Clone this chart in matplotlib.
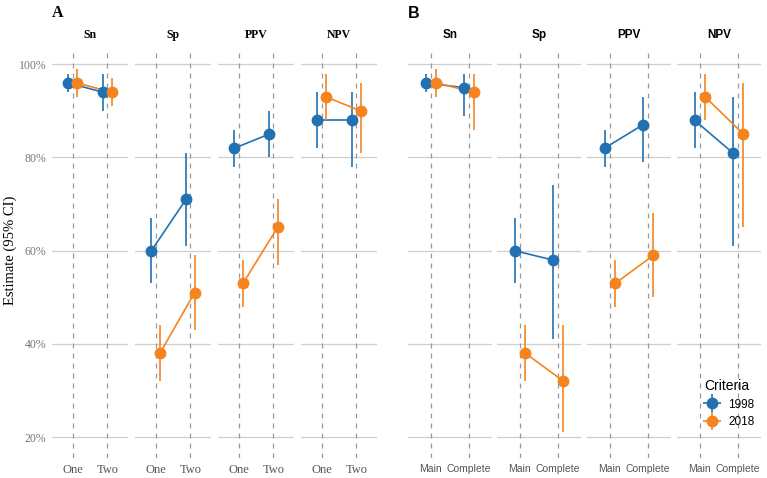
import numpy as np
import matplotlib
matplotlib.use("Agg")
import matplotlib.pyplot as plt
from matplotlib.lines import Line2D

# %% data
metrics = ['Sn', 'Sp', 'PPV', 'NPV']
years = ['1998', '2018']
colors = {'1998': '#2271B3', '2018': '#F5841F'}

# panel A: one vs two
cats_a = ['One', 'Two']
est_a_1998 = [[96, 94], [60, 71], [82, 85], [88, 88]]
lo_a_1998 = [[94, 90], [53, 61], [78, 80], [82, 78]]
hi_a_1998 = [[98, 98], [67, 81], [86, 90], [94, 94]]
est_a_2018 = [[96, 94], [38, 51], [53, 65], [93, 90]]
lo_a_2018 = [[93, 91], [32, 43], [48, 57], [88, 81]]
hi_a_2018 = [[99, 97], [44, 59], [58, 71], [98, 96]]

# panel B: main vs complete
cats_b = ['Main', 'Complete']
est_b_1998 = [[96, 95], [60, 58], [82, 87], [88, 81]]
lo_b_1998 = [[94, 89], [53, 41], [78, 79], [82, 61]]
hi_b_1998 = [[98, 98], [67, 74], [86, 93], [94, 93]]
est_b_2018 = [[96, 94], [38, 32], [53, 59], [93, 85]]
lo_b_2018 = [[93, 86], [32, 21], [48, 50], [88, 65]]
hi_b_2018 = [[99, 98], [44, 44], [58, 68], [98, 96]]

yticks = [20, 40, 60, 80, 100]

W, H = 767, 478
fig = plt.figure(figsize=(W / 100, H / 100), dpi=100)

def px_axes(x0, x1, y0, y1):
    return fig.add_axes([x0 / W, 1 - y1 / H, (x1 - x0) / W, (y1 - y0) / H])

def draw_panel(lefts, width, cats, est, lo, hi, fam, dodge, show_y, tsize):
    axes = []
    for k, m in enumerate(metrics):
        ax = px_axes(lefts[k], lefts[k] + width, 48, 458)
        x = np.arange(1, len(cats) + 1)
        for yv in yticks:
            ax.axhline(yv, color='#cfcfcf', lw=0.9, zorder=0)
        for xv in x:
            ax.axvline(xv, color='#9a9a9a', lw=0.9, ls=(0, (4, 4)), zorder=0)
        for j, yr in enumerate(years):
            off = -dodge if j == 0 else dodge
            xs = x + off
            c = colors[yr]
            ax.plot(xs, est[yr][k], color=c, lw=1.2, zorder=2)
            ax.vlines(xs, lo[yr][k], hi[yr][k], color=c, lw=1.2, zorder=2)
            ax.plot(xs, est[yr][k], 'o', color=c, ms=7.5, zorder=3)
        ax.set_xlim(0.4, 2.6)
        ax.set_ylim(15.5, 103.5)
        ax.set_xticks(x)
        ax.set_xticklabels(cats, family=fam, fontsize=tsize, color='#555555')
        ax.set_yticks(yticks)
        if show_y and k == 0:
            ax.set_yticklabels([f'{v}%' for v in yticks], family=fam, fontsize=8.5, color='#777777')
        else:
            ax.set_yticklabels([])
        ax.tick_params(length=0, pad=4)
        for s in ax.spines.values():
            s.set_visible(False)
        ax.set_title(m, family=fam, fontsize=8.5, fontweight='bold', pad=7)
        axes.append(ax)
    return axes

est_a = {'1998': est_a_1998, '2018': est_a_2018}
lo_a = {'1998': lo_a_1998, '2018': lo_a_2018}
hi_a = {'1998': hi_a_1998, '2018': hi_a_2018}
est_b = {'1998': est_b_1998, '2018': est_b_2018}
lo_b = {'1998': lo_b_1998, '2018': lo_b_2018}
hi_b = {'1998': hi_b_1998, '2018': hi_b_2018}

axa = draw_panel([52, 135, 218, 301], 76, cats_a, est_a, lo_a, hi_a,
                 'Liberation Serif', 0.125, True, 9)
axb = draw_panel([408, 497, 587, 677], 84, cats_b, est_b, lo_b, hi_b,
                 'Liberation Sans', 0.14, False, 7.5)

fig.text(10 / W, 1 - 250 / H, 'Estimate (95% CI)', rotation=90, ha='center', va='center',
         family='Liberation Serif', fontsize=10.5)
fig.text(52 / W, 1 - 13 / H, 'A', family='Liberation Serif', fontsize=11.5, fontweight='bold',
         ha='left', va='center')
fig.text(408 / W, 1 - 13 / H, 'B', family='Liberation Sans', fontsize=11.5, fontweight='bold',
         ha='left', va='center')

# legend: pointrange-style glyph (point + cross)
handles = [(Line2D([0], [0], color=colors[y], marker='+', ms=13, mew=1.2, lw=0),
            Line2D([0], [0], color=colors[y], marker='o', ms=7.5, lw=0)) for y in years]
leg = fig.legend(handles, years, title='Criteria', loc='upper left',
                 bbox_to_anchor=(694 / W, 1 - 368 / H), frameon=False,
                 prop={'family': 'Liberation Sans', 'size': 8.5}, handlelength=1.2,
                 handletextpad=0.8, labelspacing=0.5)
leg.get_title().set_family('Liberation Sans')
leg.get_title().set_fontsize(10)
leg._legend_box.align = 'left'

fig.savefig('out.png', dpi=100, facecolor='white')
